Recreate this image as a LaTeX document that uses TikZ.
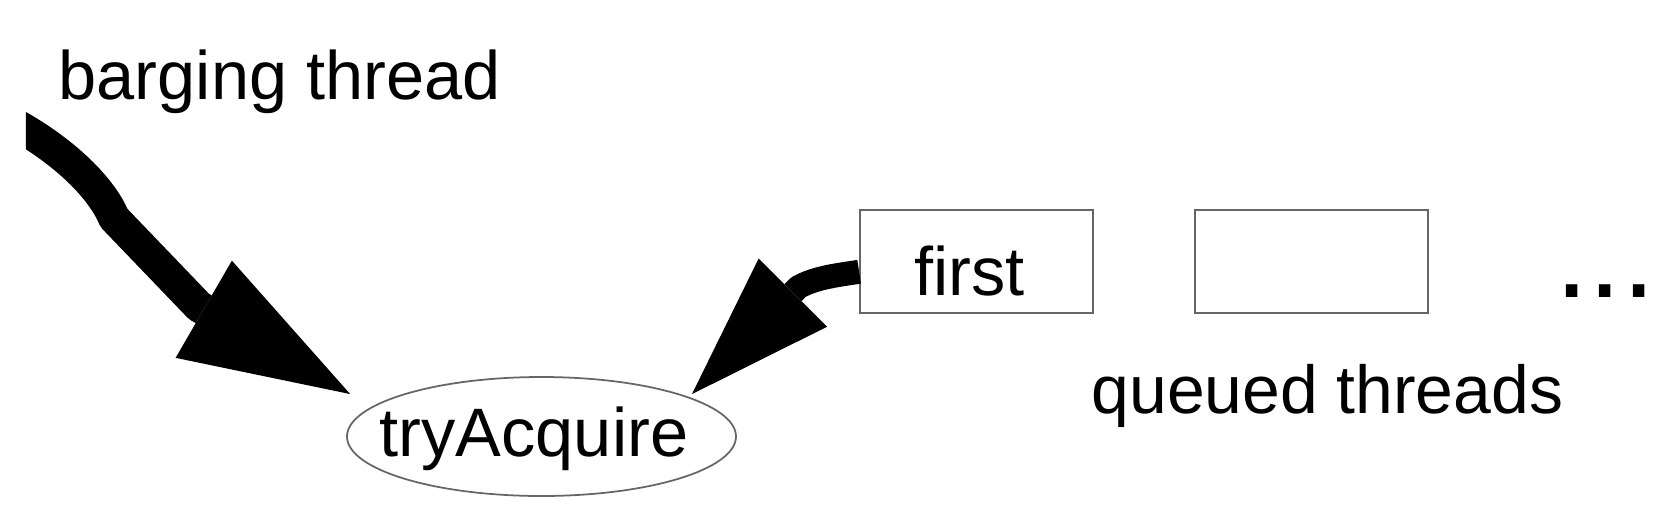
\documentclass[tikz,border=0pt]{standalone}
\usepackage{fontspec}
\setmainfont{Liberation Sans}
\usetikzlibrary{arrows.meta,positioning,shapes.geometric}

\begin{document}
\begin{tikzpicture}[
    node font=\fontsize{19.5}{23}\selectfont,
    thread box/.style={rectangle, draw=black!60, line width=0.5pt, minimum width=2.33cm, minimum height=1.03cm, inner sep=0.05cm},
    call oval/.style={ellipse, draw=black!60, line width=0.5pt, inner sep=0pt, inner xsep=-5mm, minimum width=3.89cm, minimum height=1.19cm},
    plain text/.style={inner sep=0pt, anchor=base west},
    fat arrow/.style={line width=#1, line cap=butt, line join=bevel},
]
\useasboundingbox (0,0) rectangle (16.72,5.22);

% === tryAcquire ===
\node[call oval, text height=0.51cm, text depth=0.11cm] (tryA) at (5.415,0.855) {tryAcquire\kern0.15cm};

% === queue ===
\node[thread box, text height=0.75cm, text depth=0.08cm] (first) at (9.765,2.605) {first\kern0.14cm};
\node[thread box, right=1cm of first] (next) {};
\node[plain text, font=\fontsize{34}{40}\selectfont] (dots) at (15.55,2.247) {...};

% Labels
\node[plain text] (bargelbl) at (0.58,4.22) {barging thread};
\node[plain text, font=\fontsize{19.3}{23}\selectfont] (queuelbl) at (10.91,1.09) {queued threads};

% === ARROWS ===
\coordinate (barge) at (0.10,4.005);
\begin{scope}
    % square cut at the free end
    \clip (0.26,0) rectangle (16.72,5.22);
    \draw[fat arrow=0.32cm, -{Triangle[length=1.692cm, width=1.123cm, line width=0pt]}, shorten >=0.25cm]
        (barge) .. controls (0.60,3.74) and (1.006,3.363) .. (1.14,3.04)
        -- (1.99,2.155) -- (tryA.170.5);
\end{scope}
\draw[fat arrow=0.24cm, -{Triangle[length=1.431cm, width=0.966cm, line width=0pt]}, shorten >=0.04cm]
    (first.185) .. controls (8.40,2.472) and (8.155,2.447) .. (7.982,2.347)
    -- (tryA.15.5);

\end{tikzpicture}
\end{document}
